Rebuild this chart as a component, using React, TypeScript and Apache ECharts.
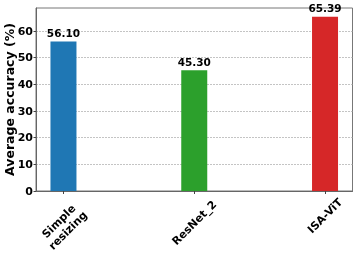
import React, { useEffect, useRef } from "react";
import * as echarts from "echarts";

const categories = ["Simple\nresizing", "ResNet_2", "ISA-ViT"];
const accuracy = [56.1, 45.3, 65.39];
const yTicks = [0, 10, 20, 30, 40, 50, 60];
const barColors = ["#1f77b4", "#2ca02c", "#d62728"];
const labelMargins = [35, 32, 25];

export default function App() {
  const ref = useRef<HTMLDivElement>(null);
  useEffect(() => {
    if (!ref.current) return;
    const chart = echarts.init(ref.current, null, { renderer: "svg" });
    const font = "DejaVu Sans";
    const yMax = 68.66;
    // plot frame: x from 36 to 352.5; categories at 0..2 with xlim [-0.21, 2.21]
    const frameLeft = 36;
    const frameRight = 4.5;
    const unit = (357 - frameLeft - frameRight) / 2.42;
    const catLeft = frameLeft + 0.21 * unit;
    const catRight = frameRight + 0.21 * unit;
    const catAxes = categories.map((c, i) => ({
      type: "category",
      gridIndex: 1,
      position: "bottom",
      boundaryGap: false,
      data: categories,
      axisLine: { show: false },
      axisTick: {
        show: i === 0,
        interval: 0,
        length: 3,
        lineStyle: { color: "#444" },
      },
      splitLine: { show: false },
      axisLabel: {
        interval: (idx: number) => idx === i,
        rotate: 45,
        align: "center",
        verticalAlign: "middle",
        margin: labelMargins[i],
        fontFamily: font,
        fontWeight: "bold",
        fontSize: 11,
        color: "#000",
        lineHeight: 13,
      },
    }));
    chart.setOption({
      animation: false,
      grid: [
        {
          left: frameLeft,
          right: frameRight,
          top: 8,
          bottom: 71,
          show: true,
          borderColor: "#777",
          borderWidth: 1,
          containLabel: false,
          outerBoundsMode: "none",
        },
        {
          left: catLeft,
          right: catRight,
          top: 8,
          bottom: 71,
          containLabel: false,
          outerBoundsMode: "none",
        },
      ],
      xAxis: [
        {
          type: "value",
          gridIndex: 0,
          min: 0,
          max: 1,
          axisLine: { show: true, onZero: false, lineStyle: { color: "#666", width: 1 } },
          axisTick: { show: false },
          axisLabel: { show: false },
          splitLine: { show: false },
        },
        ...catAxes,
      ],
      yAxis: [
        {
          type: "value",
          gridIndex: 0,
          min: 0,
          max: yMax,
          interval: 10,
          name: "Average accuracy (%)",
          nameLocation: "middle",
          nameGap: 20,
          nameMoveOverlap: false,
          nameTextStyle: {
            fontFamily: font,
            fontWeight: "bold",
            fontSize: 12.5,
            color: "#000",
          },
          axisLine: { show: true, onZero: false, lineStyle: { color: "#666", width: 1 } },
          axisTick: {
            show: true,
            customValues: yTicks,
            length: 2.5,
            lineStyle: { color: "#444" },
          },
          axisLabel: {
            customValues: yTicks,
            margin: 3,
            fontFamily: font,
            fontWeight: "bold",
            fontSize: 11,
            color: "#000",
          },
          splitLine: {
            show: true,
            lineStyle: { color: "#b5b5b5", type: [2, 1], width: 0.8 },
          },
        },
        {
          type: "value",
          gridIndex: 1,
          min: 0,
          max: yMax,
          show: false,
          splitLine: { show: false },
        },
      ],
      series: [
        {
          type: "bar",
          xAxisIndex: 1,
          yAxisIndex: 1,
          barWidth: 26,
          data: accuracy.map((v, i) => ({
            value: v,
            itemStyle: { color: barColors[i] },
          })),
          label: {
            show: true,
            position: "top",
            distance: 3,
            formatter: (p: any) => Number(p.value).toFixed(2),
            fontFamily: font,
            fontWeight: "bold",
            fontSize: 10.5,
            color: "#000",
          },
        },
      ],
    });
    return () => chart.dispose();
  }, []);
  return (
    <div
      ref={ref}
      style={{ position: "fixed", left: 0, top: 0, width: 357, height: 262 }}
    />
  );
}
